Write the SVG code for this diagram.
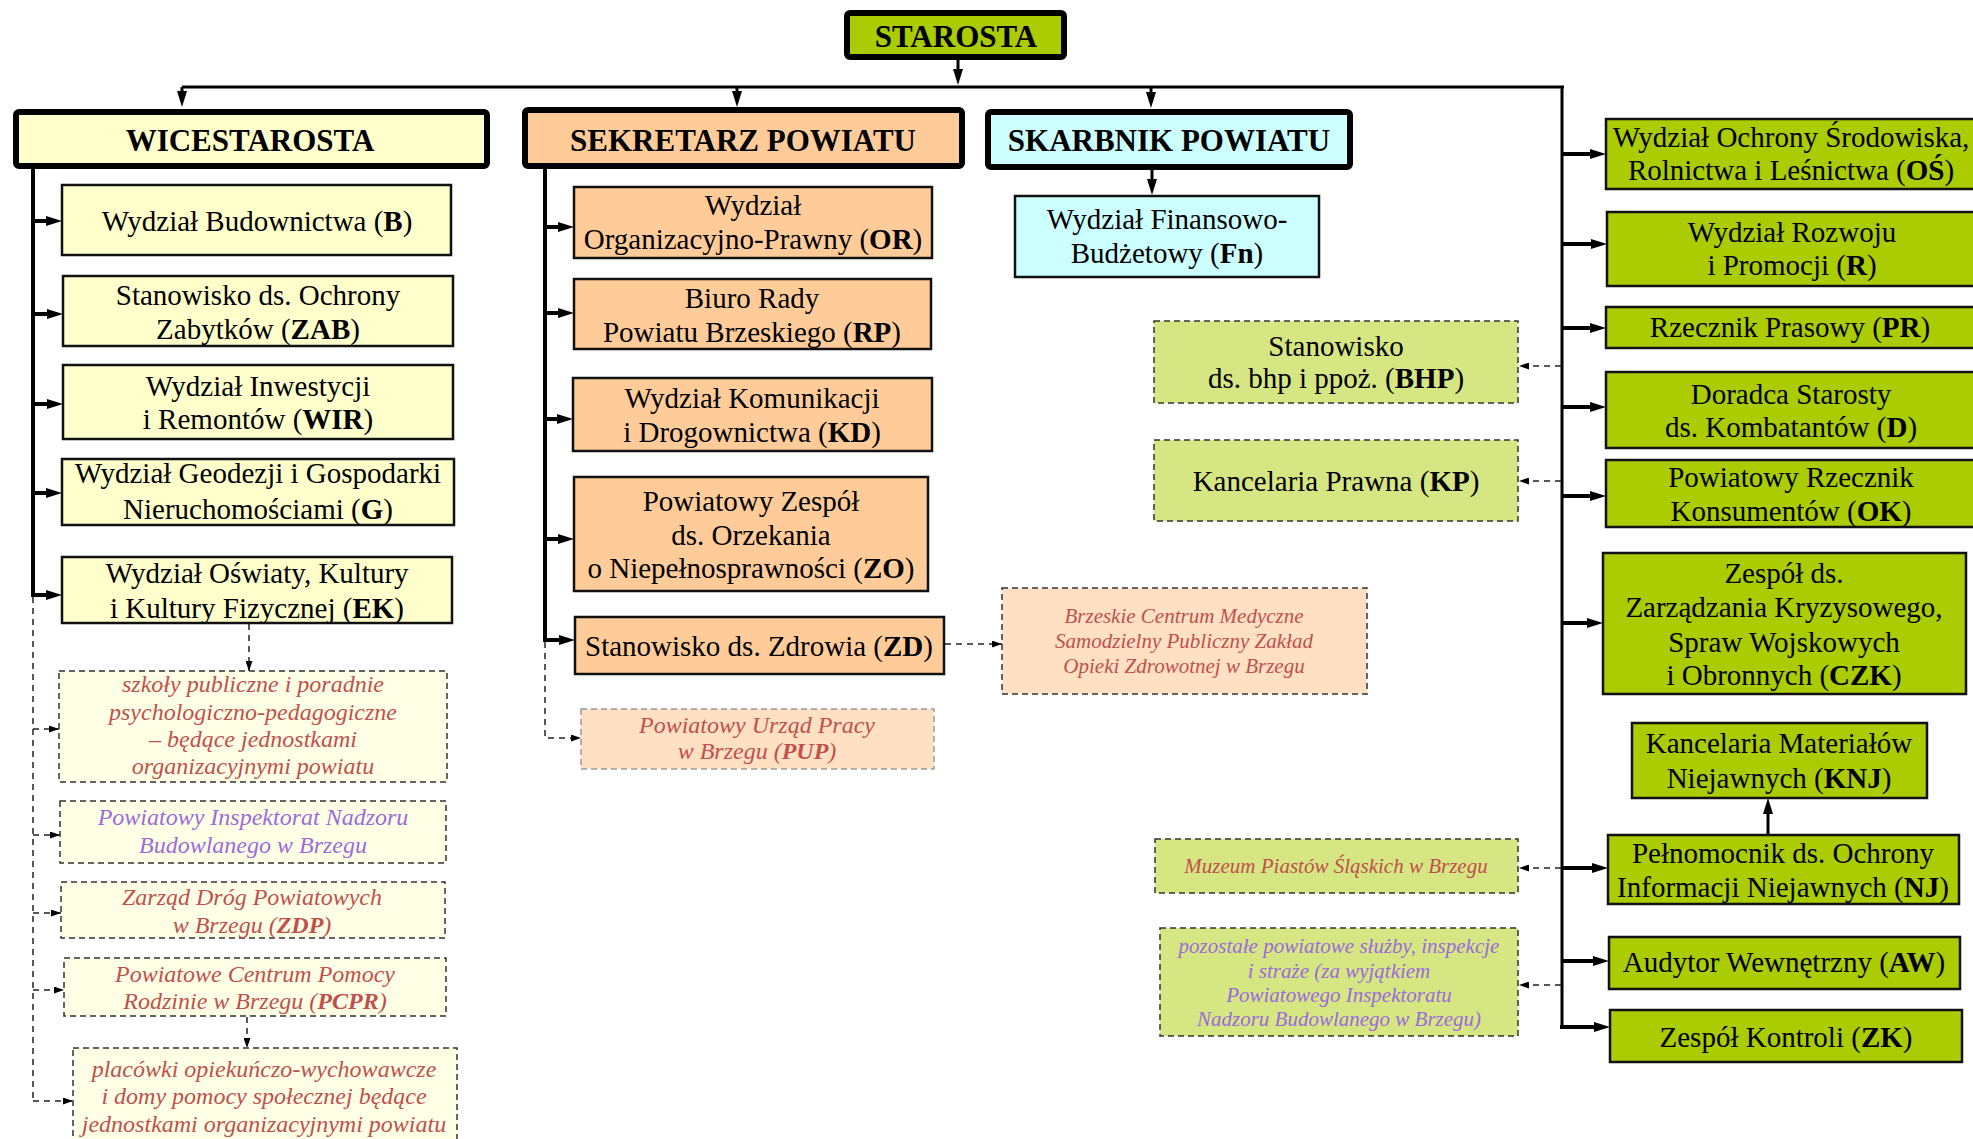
<svg xmlns="http://www.w3.org/2000/svg" width="1973" height="1139" viewBox="0 0 1973 1139">
<style>
.t{font-family:"Liberation Serif","Times New Roman",serif;font-size:29px;text-anchor:middle;fill:#000}
.h{font-weight:bold;font-size:31px}
.i{font-style:italic;font-size:24px;fill:#C0504D}
.s{font-size:21px}
.p{fill:#9B6BDB}
.b{font-weight:bold}
.box{stroke:#111;stroke-width:2.5}
.ttl{stroke:#000;stroke-width:6}
.dash{stroke:#333;stroke-width:1.5;stroke-dasharray:6 4}
.dashg{stroke:#999;stroke-width:1.5;stroke-dasharray:6 4}
.yel{fill:#FFFFCC}.org{fill:#FFCC99}.cyn{fill:#CCFFFF}.grn{fill:#AACC00}
.lyel{fill:#FFFFE6}.lorg{fill:#FFE0C2}.lgrn{fill:#D6E683}
.c{stroke:#000;stroke-width:4;fill:none}
.c3{stroke:#000;stroke-width:3;fill:none}
.dc{stroke:#222;stroke-width:1.5;stroke-dasharray:6 5;fill:none}
</style>
<defs>
<marker id="a" markerUnits="userSpaceOnUse" viewBox="0 0 16 10" markerWidth="16" markerHeight="10" refX="8" refY="5" orient="auto"><path d="M0,0 L16,5 L0,10 z" fill="#000"/></marker>
<marker id="d" markerUnits="userSpaceOnUse" viewBox="0 0 10 7" markerWidth="10" markerHeight="7" refX="10" refY="3.5" orient="auto"><path d="M0,0 L10,3.5 L0,7 z" fill="#000"/></marker>
</defs>

<g id="connectors">
<!-- top -->
<path class="c3" d="M958,60 V77" marker-end="url(#a)"/>
<path class="c3" d="M182,87 H1564"/>
<path class="c3" d="M182,87 V99" marker-end="url(#a)"/>
<path class="c3" d="M737,87 V99" marker-end="url(#a)"/>
<path class="c3" d="M1151,87 V100" marker-end="url(#a)"/>
<path class="c3" d="M1152,170 V187" marker-end="url(#a)"/>
<!-- left column -->
<path class="c" d="M33,168 V597"/>
<path class="c" d="M33,221 H54" marker-end="url(#a)"/>
<path class="c" d="M33,314 H55" marker-end="url(#a)"/>
<path class="c" d="M33,404 H55" marker-end="url(#a)"/>
<path class="c" d="M33,493 H54" marker-end="url(#a)"/>
<path class="c" d="M31,595 H54" marker-end="url(#a)"/>
<path class="dc" d="M33,597 V1101"/>
<path class="dc" d="M33,729 H59" marker-end="url(#d)"/>
<path class="dc" d="M33,835 H60" marker-end="url(#d)"/>
<path class="dc" d="M33,913 H61" marker-end="url(#d)"/>
<path class="dc" d="M33,990 H64" marker-end="url(#d)"/>
<path class="dc" d="M33,1101 H73" marker-end="url(#d)"/>
<path class="dc" d="M249,624 V671" marker-end="url(#d)"/>
<path class="dc" d="M247,1017 V1048" marker-end="url(#d)"/>
<!-- middle column -->
<path class="c" d="M545,167 V642"/>
<path class="c" d="M545,227 H566" marker-end="url(#a)"/>
<path class="c" d="M545,313 H566" marker-end="url(#a)"/>
<path class="c" d="M545,419 H565" marker-end="url(#a)"/>
<path class="c" d="M545,539 H566" marker-end="url(#a)"/>
<path class="c" d="M543,640 H567" marker-end="url(#a)"/>
<path class="dc" d="M545,642 V738 H581" marker-end="url(#d)"/>
<path class="dc" d="M945,644 H1002" marker-end="url(#d)"/>
<!-- right column -->
<path class="c3" d="M1562,86 V1029"/>
<path class="c" d="M1562,154 H1598" marker-end="url(#a)"/>
<path class="c" d="M1562,244 H1599" marker-end="url(#a)"/>
<path class="c" d="M1562,328 H1598" marker-end="url(#a)"/>
<path class="c" d="M1562,407 H1598" marker-end="url(#a)"/>
<path class="c" d="M1562,496 H1598" marker-end="url(#a)"/>
<path class="c" d="M1562,623 H1595" marker-end="url(#a)"/>
<path class="c" d="M1562,868 H1600" marker-end="url(#a)"/>
<path class="c" d="M1562,961 H1601" marker-end="url(#a)"/>
<path class="c" d="M1560,1027 H1602" marker-end="url(#a)"/>
<path class="c3" d="M1768,835 V806" marker-end="url(#a)"/>
<path class="dc" d="M1561,366 H1519" marker-end="url(#d)"/>
<path class="dc" d="M1561,481 H1519" marker-end="url(#d)"/>
<path class="dc" d="M1561,868 H1519" marker-end="url(#d)"/>
<path class="dc" d="M1561,985 H1519" marker-end="url(#d)"/>
</g>

<g id="starosta"><rect class="grn ttl" x="847" y="13" width="217" height="44" rx="3"/><text class="t h" x="956" y="47">STAROSTA</text></g>
<g id="wicestarosta"><rect class="yel ttl" x="16" y="112" width="471" height="54" rx="3"/><text class="t h" x="250" y="151">WICESTAROSTA</text></g>
<g id="sekretarz"><rect class="org ttl" x="525" y="110" width="437" height="56" rx="3"/><text class="t h" x="743" y="151">SEKRETARZ POWIATU</text></g>
<g id="skarbnik"><rect class="cyn ttl" x="988" y="112" width="362" height="55" rx="3"/><text class="t h" x="1169" y="151">SKARBNIK POWIATU</text></g>

<g id="B"><rect class="yel box" x="62" y="185" width="389" height="70"/><text class="t" x="257" y="231">Wydział Budownictwa (<tspan class="b">B</tspan>)</text></g>
<g id="ZAB"><rect class="yel box" x="63" y="276" width="390" height="70"/><text class="t" x="258" y="305">Stanowisko ds. Ochrony</text><text class="t" x="258" y="339">Zabytków (<tspan class="b">ZAB</tspan>)</text></g>
<g id="WIR"><rect class="yel box" x="63" y="365" width="390" height="74"/><text class="t" x="258" y="396">Wydział Inwestycji</text><text class="t" x="258" y="429">i Remontów (<tspan class="b">WIR</tspan>)</text></g>
<g id="G"><rect class="yel box" x="62" y="459" width="392" height="66"/><text class="t" x="258" y="483">Wydział Geodezji i Gospodarki</text><text class="t" x="258" y="519">Nieruchomościami (<tspan class="b">G</tspan>)</text></g>
<g id="EK"><rect class="yel box" x="62" y="557" width="390" height="66"/><text class="t" x="257" y="583">Wydział Oświaty, Kultury</text><text class="t" x="257" y="618">i Kultury Fizycznej (<tspan class="b">EK</tspan>)</text></g>

<g id="szkoly"><rect class="lyel dash" x="59" y="671" width="388" height="111"/><text class="t i" x="253" y="692">szkoły publiczne i poradnie</text><text class="t i" x="253" y="720">psychologiczno-pedagogiczne</text><text class="t i" x="253" y="747">– będące jednostkami</text><text class="t i" x="253" y="774">organizacyjnymi powiatu</text></g>
<g id="PINB"><rect class="lyel dash" x="60" y="801" width="386" height="62"/><text class="t i p" x="253" y="825">Powiatowy Inspektorat Nadzoru</text><text class="t i p" x="253" y="853">Budowlanego w Brzegu</text></g>
<g id="ZDP"><rect class="lyel dash" x="61" y="882" width="384" height="56"/><text class="t i" x="252" y="905">Zarząd Dróg Powiatowych</text><text class="t i" x="252" y="933">w Brzegu (<tspan class="b">ZDP</tspan>)</text></g>
<g id="PCPR"><rect class="lyel dash" x="64" y="958" width="382" height="58"/><text class="t i" x="255" y="982">Powiatowe Centrum Pomocy</text><text class="t i" x="255" y="1009">Rodzinie w Brzegu (<tspan class="b">PCPR</tspan>)</text></g>
<g id="placowki"><rect class="lyel dash" x="73" y="1048" width="384" height="100"/><text class="t i" x="264" y="1077">placówki opiekuńczo-wychowawcze</text><text class="t i" x="264" y="1104">i domy pomocy społecznej będące</text><text class="t i" x="264" y="1132">jednostkami organizacyjnymi powiatu</text></g>

<g id="OR"><rect class="org box" x="574" y="187" width="358" height="71"/><text class="t" x="753" y="215">Wydział</text><text class="t" x="753" y="249">Organizacyjno-Prawny (<tspan class="b">OR</tspan>)</text></g>
<g id="RP"><rect class="org box" x="574" y="279" width="357" height="70"/><text class="t" x="752" y="308">Biuro Rady</text><text class="t" x="752" y="342">Powiatu Brzeskiego (<tspan class="b">RP</tspan>)</text></g>
<g id="KD"><rect class="org box" x="573" y="378" width="359" height="73"/><text class="t" x="752" y="408">Wydział Komunikacji</text><text class="t" x="752" y="442">i Drogownictwa (<tspan class="b">KD</tspan>)</text></g>
<g id="ZO"><rect class="org box" x="574" y="477" width="354" height="114"/><text class="t" x="751" y="511">Powiatowy Zespół</text><text class="t" x="751" y="545">ds. Orzekania</text><text class="t" x="751" y="578">o Niepełnosprawności (<tspan class="b">ZO</tspan>)</text></g>
<g id="ZD"><rect class="org box" x="575" y="617" width="369" height="57"/><text class="t" x="759" y="656">Stanowisko ds. Zdrowia (<tspan class="b">ZD</tspan>)</text></g>
<g id="PUP"><rect class="lorg dashg" x="581" y="709" width="353" height="60"/><text class="t i" x="757" y="733">Powiatowy Urząd Pracy</text><text class="t i" x="757" y="759">w Brzegu (<tspan class="b">PUP</tspan>)</text></g>
<g id="BCM"><rect class="lorg dash" x="1002" y="588" width="365" height="106"/><text class="t i s" x="1184" y="623">Brzeskie Centrum Medyczne</text><text class="t i s" x="1184" y="648">Samodzielny Publiczny Zakład</text><text class="t i s" x="1184" y="673">Opieki Zdrowotnej w Brzegu</text></g>

<g id="Fn"><rect class="cyn box" x="1015" y="196" width="304" height="81"/><text class="t" x="1167" y="229">Wydział Finansowo-</text><text class="t" x="1167" y="263">Budżetowy (<tspan class="b">Fn</tspan>)</text></g>
<g id="BHP"><rect class="lgrn dash" x="1154" y="321" width="364" height="82"/><text class="t" x="1336" y="356">Stanowisko</text><text class="t" x="1336" y="388">ds. bhp i ppoż. (<tspan class="b">BHP</tspan>)</text></g>
<g id="KP"><rect class="lgrn dash" x="1154" y="440" width="364" height="81"/><text class="t" x="1336" y="491">Kancelaria Prawna (<tspan class="b">KP</tspan>)</text></g>
<g id="muzeum"><rect class="lgrn dash" x="1155" y="839" width="363" height="54"/><text class="t i s" x="1336" y="873">Muzeum Piastów Śląskich w Brzegu</text></g>
<g id="pozostale"><rect class="lgrn dash" x="1160" y="928" width="358" height="108"/><text class="t i s p" x="1339" y="953">pozostałe powiatowe służby, inspekcje</text><text class="t i s p" x="1339" y="978">i straże (za wyjątkiem</text><text class="t i s p" x="1339" y="1002">Powiatowego Inspektoratu</text><text class="t i s p" x="1339" y="1026">Nadzoru Budowlanego w Brzegu)</text></g>

<g id="OS"><rect class="grn box" x="1606" y="119" width="374" height="70"/><text class="t" x="1791" y="147">Wydział Ochrony Środowiska,</text><text class="t" x="1791" y="180">Rolnictwa i Leśnictwa (<tspan class="b">OŚ</tspan>)</text></g>
<g id="R"><rect class="grn box" x="1607" y="212" width="373" height="74"/><text class="t" x="1792" y="242">Wydział Rozwoju</text><text class="t" x="1792" y="275">i Promocji (<tspan class="b">R</tspan>)</text></g>
<g id="PR"><rect class="grn box" x="1606" y="307" width="374" height="41"/><text class="t" x="1790" y="337">Rzecznik Prasowy (<tspan class="b">PR</tspan>)</text></g>
<g id="D"><rect class="grn box" x="1606" y="372" width="374" height="76"/><text class="t" x="1791" y="404">Doradca Starosty</text><text class="t" x="1791" y="437">ds. Kombatantów (<tspan class="b">D</tspan>)</text></g>
<g id="OK"><rect class="grn box" x="1606" y="460" width="374" height="67"/><text class="t" x="1791" y="487">Powiatowy Rzecznik</text><text class="t" x="1791" y="521">Konsumentów (<tspan class="b">OK</tspan>)</text></g>
<g id="CZK"><rect class="grn box" x="1603" y="553" width="363" height="141"/><text class="t" x="1784" y="583">Zespół ds.</text><text class="t" x="1784" y="617">Zarządzania Kryzysowego,</text><text class="t" x="1784" y="652">Spraw Wojskowych</text><text class="t" x="1784" y="685">i Obronnych (<tspan class="b">CZK</tspan>)</text></g>
<g id="KNJ"><rect class="grn box" x="1632" y="723" width="295" height="75"/><text class="t" x="1779" y="753">Kancelaria Materiałów</text><text class="t" x="1779" y="788">Niejawnych (<tspan class="b">KNJ</tspan>)</text></g>
<g id="NJ"><rect class="grn box" x="1608" y="835" width="351" height="69"/><text class="t" x="1783" y="863">Pełnomocnik ds. Ochrony</text><text class="t" x="1783" y="897">Informacji Niejawnych (<tspan class="b">NJ</tspan>)</text></g>
<g id="AW"><rect class="grn box" x="1609" y="937" width="351" height="52"/><text class="t" x="1784" y="972">Audytor Wewnętrzny (<tspan class="b">AW</tspan>)</text></g>
<g id="ZK"><rect class="grn box" x="1610" y="1010" width="352" height="52"/><text class="t" x="1786" y="1047">Zespół Kontroli (<tspan class="b">ZK</tspan>)</text></g>
</svg>
